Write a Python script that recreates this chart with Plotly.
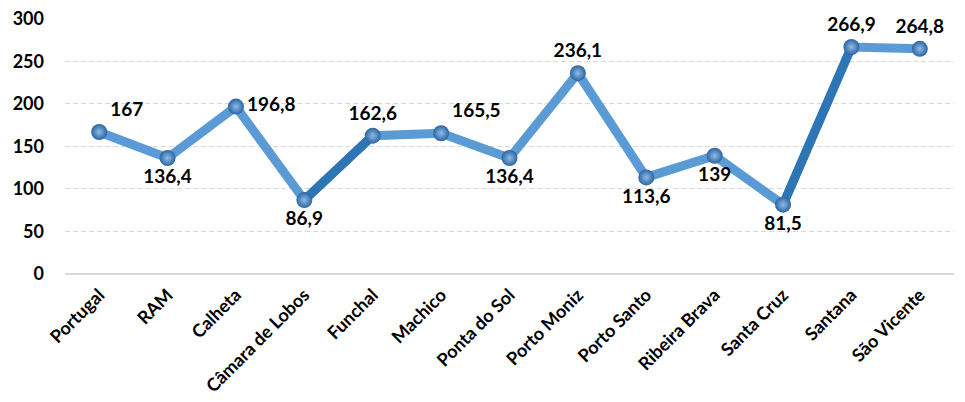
import plotly.graph_objects as go

# Data
categories = ["Portugal", "RAM", "Calheta", "Câmara de Lobos", "Funchal", "Machico",
              "Ponta do Sol", "Porto Moniz", "Porto Santo", "Ribeira Brava",
              "Santa Cruz", "Santana", "São Vicente"]
values = [167, 136.4, 196.8, 86.9, 162.6, 165.5, 136.4, 236.1, 113.6, 139, 81.5, 266.9, 264.8]
value_labels = ["167", "136,4", "196,8", "86,9", "162,6", "165,5", "136,4",
                "236,1", "113,6", "139", "81,5", "266,9", "264,8"]
label_positions = ["top right", "bottom center", "middle right", "bottom center",
                   "top center", "top right", "bottom center", "top center",
                   "bottom center", "bottom center", "bottom center", "top center",
                   "top center"]
y_ticks = [0, 50, 100, 150, 200, 250, 300]
# segments drawn in the darker shade (start index of each)
dark_segments = [3, 10]

light_blue = "#5b9bd5"
dark_blue = "#2e75b6"
font_family = "Lato, 'Open Sans', sans-serif"

fig = go.Figure()

# main line
fig.add_trace(go.Scatter(
    x=categories,
    y=values,
    mode="lines",
    line=dict(color=light_blue, width=9),
    showlegend=False,
    hoverinfo="skip",
))

# darker rising segments
for i in dark_segments:
    fig.add_trace(go.Scatter(
        x=categories[i:i + 2],
        y=values[i:i + 2],
        mode="lines",
        line=dict(color=dark_blue, width=9),
        showlegend=False,
        hoverinfo="skip",
    ))

# sphere-like markers with data labels
fig.add_trace(go.Scatter(
    x=categories,
    y=values,
    mode="markers+text",
    marker=dict(
        size=16,
        color="#2b65a3",
        gradient=dict(type="radial", color="#8fbbe6"),
        line=dict(width=0),
    ),
    text=value_labels,
    textposition=label_positions,
    textfont=dict(family=font_family, size=19, color="black", weight="bold"),
    cliponaxis=False,
    showlegend=False,
))

fig.update_layout(
    width=957,
    height=394,
    margin=dict(l=57, r=11, t=10, b=128),
    paper_bgcolor="white",
    plot_bgcolor="white",
    font=dict(family=font_family, color="black"),
    xaxis=dict(
        type="category",
        range=[-0.5, len(categories) - 0.5],
        tickangle=-45,
        tickfont=dict(family=font_family, size=18, color="black", weight="bold"),
        showgrid=False,
        showline=False,
        zeroline=False,
        ticks="",
        automargin=False,
        ticklabelstandoff=6,
    ),
    yaxis=dict(
        range=[0, 301],
        tickmode="array",
        tickvals=y_ticks,
        tickfont=dict(family=font_family, size=18, color="black", weight="bold"),
        showgrid=True,
        gridcolor="#d9d9d9",
        griddash="5px,3px",
        gridwidth=1,
        zeroline=True,
        zerolinecolor="#d9d9d9",
        zerolinewidth=2,
        showline=False,
        ticks="",
        ticklabelstandoff=20,
        ticklabeloverflow="allow",
        automargin=False,
    ),
)

fig.write_html("out.html")
